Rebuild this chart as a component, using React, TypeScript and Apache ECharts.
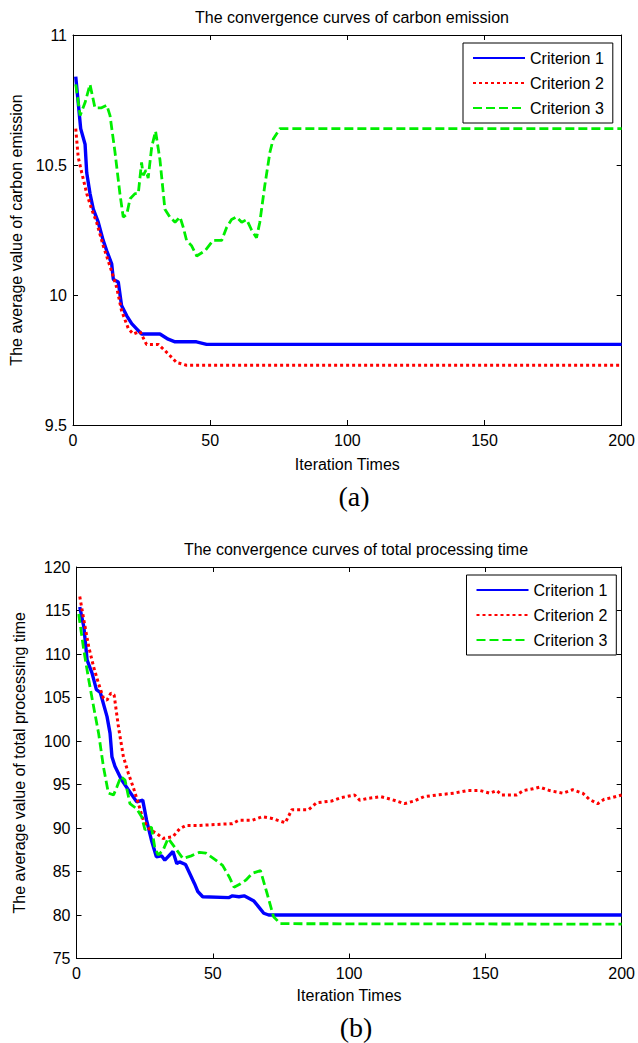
import { useEffect, useRef } from "react";
import * as echarts from "echarts";

// ---------- data ----------
const seriesNames = ["Criterion 1", "Criterion 2", "Criterion 3"];
const titleA = "The convergence curves of carbon emission";
const titleB = "The convergence curves of total processing time";
const yNameA = "The average value of carbon emission";
const yNameB = "The average value of total processing time";
const xName = "Iteration Times";

// (a) carbon emission: [iteration, value]
const carbonC1: [number, number][] = [
  [1, 10.84], [2.8, 10.64], [4.4, 10.58], [5, 10.47], [6.2, 10.39], [7.4, 10.33],
  [9.2, 10.28], [11, 10.21], [12.3, 10.17], [14.1, 10.12], [14.7, 10.06], [16.5, 10.05],
  [17.7, 9.96], [19.6, 9.92], [21.4, 9.89], [23.2, 9.87], [25, 9.85], [31.7, 9.85],
  [34.7, 9.83], [37.2, 9.82], [40.2, 9.82], [45, 9.82], [48.7, 9.81], [200, 9.81],
];
const carbonC2: [number, number][] = [
  [1, 10.64], [1.9, 10.53], [3.2, 10.47], [5, 10.39], [6.8, 10.33], [8.6, 10.28],
  [11, 10.19], [13.5, 10.11], [15.9, 10.03], [17.7, 9.94], [20.2, 9.87], [22, 9.85],
  [24.4, 9.86], [26.8, 9.81], [31.1, 9.81], [34.1, 9.78], [37.8, 9.74], [41.4, 9.73],
  [200, 9.73],
];
const carbonC3: [number, number][] = [
  [1, 10.81], [2.6, 10.69], [4.4, 10.74], [6.2, 10.81], [8, 10.72], [10.4, 10.72],
  [12.3, 10.73], [13.5, 10.69], [15.3, 10.55], [17.1, 10.39], [18.3, 10.3], [19.6, 10.31],
  [20.8, 10.37], [22.6, 10.39], [23.8, 10.39], [25, 10.51], [25.6, 10.46], [26.6, 10.48],
  [27.4, 10.45], [28.7, 10.57], [30.1, 10.63], [31.7, 10.52], [33.5, 10.33], [35.3, 10.3],
  [37.2, 10.28], [39, 10.3], [40.2, 10.26], [41.4, 10.21], [43.2, 10.19], [45.1, 10.15],
  [48.1, 10.17], [51.1, 10.21], [54.2, 10.21], [56, 10.26], [57.8, 10.29], [59.6, 10.3],
  [61.5, 10.28], [63.3, 10.29], [65.1, 10.25], [66.9, 10.22], [68.1, 10.28], [69.9, 10.42],
  [71.8, 10.55], [73, 10.6], [75.4, 10.64], [200, 10.64],
];

// (b) total processing time
const timeC1: [number, number][] = [
  [1.2, 115.4], [2.7, 113.1], [3.9, 109.3], [5.7, 107.8], [7.3, 105.9], [8.7, 105.6],
  [11.2, 102.8], [12.3, 100.9], [13, 98.2], [14.1, 97.1], [16.6, 95.5], [19, 94.4],
  [22.1, 93.0], [24.3, 93.2], [25.7, 90.9], [27.5, 88.6], [29.3, 86.7], [31.2, 86.8],
  [32.4, 86.3], [35.4, 87.3], [36.8, 85.9], [37.8, 86.1], [40, 85.8], [43.3, 83.6],
  [44.5, 82.7], [46.3, 82.1], [56, 82.0], [57.2, 82.2], [59.6, 82.1], [61.5, 82.2],
  [65.1, 81.6], [66.9, 80.9], [68.7, 80.2], [70.5, 80.0], [200, 80.0],
];
const timeC2: [number, number][] = [
  [1.2, 116.6], [2.7, 113.9], [4.5, 110.8], [6.3, 108.5], [8.1, 106.6], [9.9, 104.9],
  [11.2, 104.7], [12.6, 105.5], [13.8, 105.3], [15.4, 101.6], [17.2, 98.2], [19, 96.3],
  [20.8, 94.7], [22.7, 92.8], [24.5, 90.9], [26.9, 89.8], [29.3, 89.4], [31.7, 88.8],
  [35.4, 89.0], [37.8, 89.9], [40.2, 90.3], [45.1, 90.3], [51.1, 90.4], [57.2, 90.5],
  [59.6, 90.9], [64.5, 90.9], [68.1, 91.3], [71.7, 91.1], [76.6, 90.6], [79, 92.1],
  [85.1, 92.1], [88.1, 92.9], [93.6, 93.1], [97.2, 93.5], [102, 93.8], [103.9, 93.2],
  [106.9, 93.4], [111.7, 93.6], [115.4, 93.3], [120.3, 92.8], [123.9, 93.1], [127.5, 93.6],
  [132.4, 93.8], [138.4, 94.0], [143.3, 94.3], [148.1, 94.3], [151.7, 94.0], [154.2, 94.3],
  [156, 93.8], [161.5, 93.8], [163.9, 94.3], [167.5, 94.5], [169.9, 94.7], [173.6, 94.3],
  [178.4, 94.0], [182, 94.4], [185.7, 94.0], [188.1, 93.3], [191.2, 92.8], [193.6, 93.3],
  [196.6, 93.5], [200, 93.8],
];
const timeC3: [number, number][] = [
  [0.8, 114.6], [2.7, 110.4], [4.5, 107.0], [6.3, 103.9], [8.1, 100.9], [9.9, 97.0],
  [11.7, 94.0], [13.6, 93.8], [14.8, 94.7], [16.3, 95.9], [17.8, 95.5], [19.6, 92.8],
  [22.1, 92.2], [23.9, 91.3], [25.1, 89.8], [27.5, 90.1], [28.7, 87.8], [29.9, 86.9],
  [31.7, 87.4], [33.6, 88.8], [36, 87.8], [39, 86.5], [42.1, 86.8], [45.1, 87.2],
  [47.5, 87.1], [51.1, 86.3], [53.6, 85.7], [56, 84.4], [57.8, 83.2], [60.2, 83.6],
  [62.1, 84.0], [64.5, 84.8], [67.5, 85.1], [69.9, 82.5], [72.3, 79.8], [74.8, 79.0],
  [200, 78.95],
];

// ---------- styles ----------
const FONT = "'Liberation Sans', Arial, Helvetica, sans-serif";
const SERIF = "'Liberation Serif', 'Times New Roman', serif";
const INK = "#000";
const colors = ["#0000ff", "#ff0000", "#00ee00"];
const lineTypes: any[] = ["solid", [3, 3], [9, 4]];
const lineWidths = [3.4, 3, 2.8];

function axisCommon() {
  return {
    axisLine: { show: true, onZero: false, lineStyle: { color: INK, width: 1 } },
    axisTick: { show: true, inside: true, length: 5, lineStyle: { color: INK } },
    splitLine: { show: false },
  };
}

function xAxes(gridIndex: number, gap: number) {
  return [
    {
      type: "value", gridIndex, position: "bottom", min: 0, max: 200, interval: 50,
      ...axisCommon(),
      axisLabel: { color: INK, fontSize: 16, fontFamily: FONT, margin: 7 },
      name: xName, nameLocation: "middle", nameGap: gap,
      nameTextStyle: { color: INK, fontSize: 16, fontFamily: FONT },
    },
    {
      type: "value", gridIndex, position: "top", min: 0, max: 200, interval: 50,
      ...axisCommon(), axisLabel: { show: false },
    },
  ];
}

function yAxes(gridIndex: number, min: number, max: number, interval: number, name: string, gap: number) {
  return [
    {
      type: "value", gridIndex, position: "left", min, max, interval,
      ...axisCommon(),
      axisLabel: { color: INK, fontSize: 16, fontFamily: FONT, margin: 6 },
      name, nameLocation: "middle", nameGap: gap,
      nameTextStyle: { color: INK, fontSize: 16, fontFamily: FONT },
    },
    {
      type: "value", gridIndex, position: "right", min, max, interval,
      ...axisCommon(), axisLabel: { show: false },
    },
  ];
}

function lineSeries(data: [number, number][], i: number, axisIdx: number) {
  return {
    type: "line", name: seriesNames[i], xAxisIndex: axisIdx, yAxisIndex: axisIdx,
    data, symbol: "none", showSymbol: false,
    lineStyle: { color: colors[i], width: lineWidths[i], type: lineTypes[i], cap: "butt" },
    itemStyle: { color: colors[i] },
  };
}

function legendAt(left: number, top: number) {
  return {
    orient: "vertical", left, top, itemWidth: 52, itemHeight: 14, itemGap: 9,
    padding: [7, 9, 7, 9], borderColor: INK, borderWidth: 1, backgroundColor: "#fff",
    selectedMode: false, data: seriesNames,
    itemStyle: { color: "transparent", borderColor: "transparent", borderWidth: 0, opacity: 0 },
    textStyle: { color: INK, fontSize: 16, fontFamily: FONT },
  };
}

export default function App() {
  const ref = useRef<HTMLDivElement>(null);
  useEffect(() => {
    const chart = echarts.init(ref.current!, null, { renderer: "svg" });
    const option: any = {
      animation: false,
      backgroundColor: "#fff",
      grid: [
        { left: 73, top: 35, width: 549, height: 390, containLabel: false },
        { left: 76.5, top: 567, width: 549.5, height: 391.5, containLabel: false },
      ],
      xAxis: [...xAxes(0, 31), ...xAxes(1, 29)],
      yAxis: [
        ...yAxes(0, 9.5, 11, 0.5, yNameA, 46),
        ...yAxes(1, 75, 120, 5, yNameB, 49),
      ],
      legend: [legendAt(463, 43), legendAt(466.5, 575)],
      series: [
        lineSeries(carbonC1, 0, 0),
        lineSeries(carbonC2, 1, 0),
        lineSeries(carbonC3, 2, 0),
        lineSeries(timeC1, 0, 2),
        lineSeries(timeC2, 1, 2),
        lineSeries(timeC3, 2, 2),
      ],
      graphic: [
        { type: "text", x: 352, y: 17, style: { text: titleA, fill: INK, fontSize: 16, fontFamily: FONT, align: "center", verticalAlign: "middle" } },
        { type: "text", x: 356, y: 549, style: { text: titleB, fill: INK, fontSize: 16, fontFamily: FONT, align: "center", verticalAlign: "middle" } },
        { type: "text", x: 354, y: 496, style: { text: "(a)", fill: INK, fontSize: 28, fontFamily: SERIF, align: "center", verticalAlign: "middle" } },
        { type: "text", x: 356, y: 1027, style: { text: "(b)", fill: INK, fontSize: 28, fontFamily: SERIF, align: "center", verticalAlign: "middle" } },
      ],
    };
    chart.setOption(option);
    return () => chart.dispose();
  }, []);
  return (
    <div
      ref={ref}
      style={{ position: "absolute", left: 0, top: 0, width: 638, height: 1043, background: "#fff" }}
    />
  );
}
